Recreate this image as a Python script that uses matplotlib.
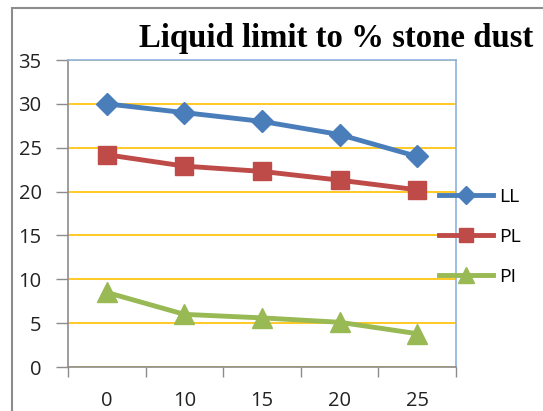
import matplotlib
matplotlib.use("Agg")
import matplotlib.pyplot as plt
from matplotlib.lines import Line2D
from matplotlib.patches import Rectangle

categories = ["0", "10", "15", "20", "25"]
LL = [30.0, 29.0, 28.0, 26.5, 24.0]
PL = [24.2, 22.9, 22.3, 21.3, 20.2]
PI = [8.5, 6.0, 5.6, 5.1, 3.8]
series_names = ["LL", "PL", "PI"]
colors = ["#4a7ebb", "#be4b48", "#98b954"]
markers = ["D", "s", "^"]
msizes = [11, 13, 14]

W, H = 543, 411
fig = plt.figure(figsize=(W / 100, H / 100), dpi=100)
fig.patch.set_facecolor("white")

# outer chart border (cropped on right/bottom)
fig.add_artist(Rectangle((12 / W, -0.05), 1.2, (H - 8) / H + 0.05, transform=fig.transFigure,
                         fill=False, edgecolor="#8c8c8c", linewidth=1.5))

left, right, top, bottom = 68, 456, 60, 367
ax = fig.add_axes([left / W, 1 - bottom / H, (right - left) / W, (bottom - top) / H])
x = list(range(len(categories)))
for vals, c, m, ms, name in zip([LL, PL, PI], colors, markers, msizes, series_names):
    ax.plot(x, vals, color=c, marker=m, markersize=ms, linewidth=3.5, label=name, zorder=3)

ax.set_xlim(-0.5, len(categories) - 0.5)
ax.set_ylim(0, 35)
ax.set_yticks(range(0, 36, 5))
ax.set_xticks(x)
ax.set_xticklabels(categories)
ax.set_xticks([i - 0.5 for i in range(len(categories) + 1)], minor=True)
ax.tick_params(axis="x", which="major", length=0, pad=17)
ax.tick_params(axis="x", which="minor", length=7, color="#8c8c8c", width=1)
ax.tick_params(axis="y", length=9, color="#8c8c8c", width=1, pad=10)
for lbl in ax.get_xticklabels() + ax.get_yticklabels():
    lbl.set_fontfamily("Open Sans")
    lbl.set_fontsize(14.5)
    lbl.set_color("#222222")
ax.yaxis.grid(True, color="#ffc000", linewidth=1.2)
ax.set_axisbelow(True)
for s in ["left", "bottom"]:
    ax.spines[s].set_color("#8c8c8c")
    ax.spines[s].set_linewidth(1.2)
for s in ["top", "right"]:
    ax.spines[s].set_color("#8db3e2")
    ax.spines[s].set_linewidth(1.2)

handles = [Line2D([0], [0], color=c, marker=m, markersize=ms * 0.8, linewidth=3.5)
           for c, m, ms in zip(colors, markers, msizes)]
leg = fig.legend(handles, series_names, loc="upper left", bbox_to_anchor=(421 / W, 1 - 170 / H),
                 frameon=False, handlelength=2.8, labelspacing=1.15, handletextpad=0.3,
                 prop={"family": "Open Sans", "size": 14})

fig.text(139 / W, 1 - 47 / H, "Liquid limit to % stone dust", fontfamily="Liberation Serif",
         fontweight="bold", fontsize=23.6, ha="left", va="baseline", color="black")

fig.savefig("out.png", dpi=100)
